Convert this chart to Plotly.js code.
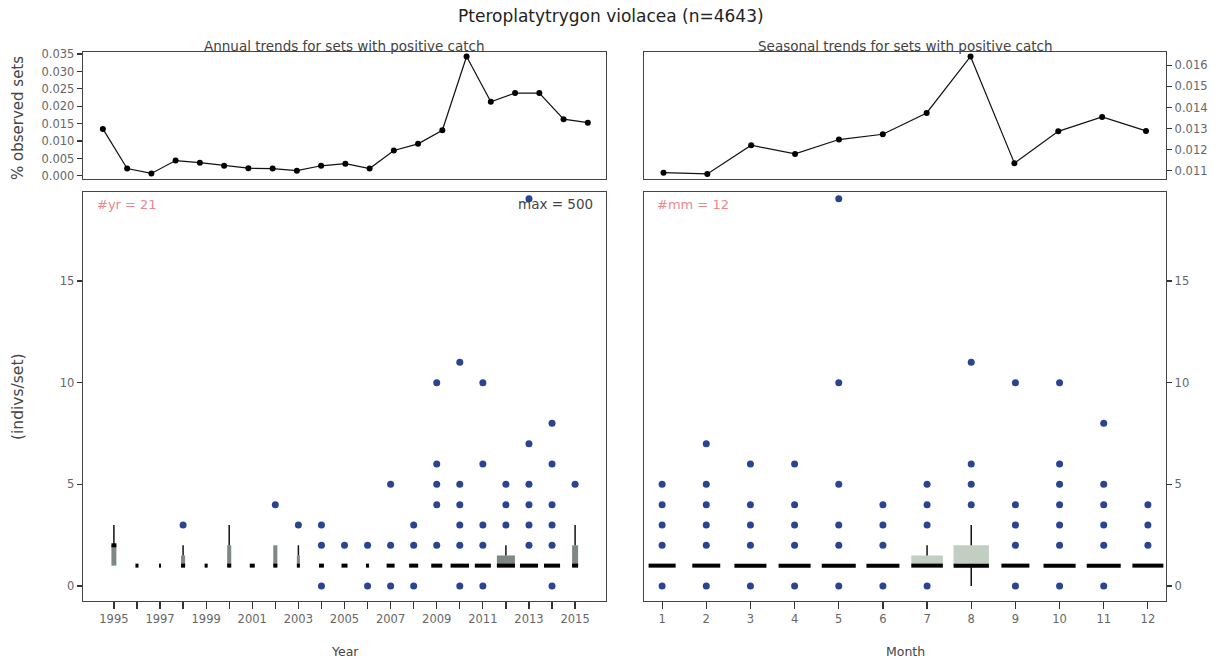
<!DOCTYPE html>
<html>
<head>
<meta charset="utf-8">
<script src="https://cdn.plot.ly/plotly-3.0.1.min.js"></script>
<style>html,body{margin:0;padding:0;background:#fff;}#chart{width:1222px;height:662px;}</style>
</head>
<body>
<div id="chart"></div>
<script>
// ---------------- data ----------------
const years = [1995,1996,1997,1998,1999,2000,2001,2002,2003,2004,2005,2006,2007,2008,2009,2010,2011,2012,2013,2014,2015];
const yearLabels = ["1995","","1997","","1999","","2001","","2003","","2005","","2007","","2009","","2011","","2013","","2015"];
const pctAnnual = [0.0135,0.0021,0.0007,0.0044,0.0038,0.0029,0.0022,0.0021,0.0015,0.0029,0.0035,0.0021,0.0073,0.0092,0.0131,0.0343,0.0213,0.0238,0.0238,0.0163,0.0153];

const months = [1,2,3,4,5,6,7,8,9,10,11,12];
const pctSeasonal = [0.01091,0.01085,0.01221,0.01180,0.01248,0.01273,0.01374,0.01642,0.01136,0.01287,0.01355,0.01289];

// per-year box statistics (indivs/set)
const yrN   = [24,9,4,16,9,16,24,16,9,24,35,9,62,79,118,330,250,316,316,250,35];
const yrLo  = [1,1,1,1,1,1,1,1,1,1,1,1,1,1,1,1,1,1,1,1,1];
const yrQ1  = [1,1,1,1,1,1,1,1,1,1,1,1,1,1,1,1,1,1,1,1,1];
const yrMed = [2,1,1,1,1,1,1,1,1,1,1,1,1,1,1,1,1,1,1,1,1];
const yrQ3  = [2,1,1,1.5,1,2,1,2,1.5,1,1,1,1,1,1,1,1,1.5,1,1,2];
const yrHi  = [3,1,1,2,1,3,1,2,2,1,1,1,1,1,1,1,1,2,1,1,3];
const yrOut = [[],[],[],[3],[],[],[],[4],[3],[0,2,3],[2],[0,2],[0,2,5],[0,2,3],[2,4,5,6,10],[0,2,3,4,5,11],[0,2,3,6,10],[3,4,5],[2,3,4,5,7,500],[0,2,3,4,6,8],[5]];

// per-month box statistics (indivs/set)
const mmN   = [119,127,167,167,188,177,162,203,127,167,188,156];
const mmLo  = [1,1,1,1,1,1,1,0,1,1,1,1];
const mmQ1  = [1,1,1,1,1,1,1,1,1,1,1,1];
const mmMed = [1,1,1,1,1,1,1,1,1,1,1,1];
const mmQ3  = [1,1,1,1,1,1,1.5,2,1,1,1,1];
const mmHi  = [1,1,1,1,1,1,2,3,1,1,1,1];
const mmOut = [[0,2,3,4,5],[0,2,3,4,5,7],[0,2,3,4,6],[0,2,3,4,6],[0,2,3,5,10,500],[0,2,3,4],[0,3,4,5],[4,5,6,11],[0,2,3,4,10],[0,2,3,4,5,6,10],[0,2,3,4,5,8],[2,3,4]];

const nTotal = 4643;
const maxCatch = 500;

// ---------------- helpers ----------------
const W = 1222, H = 662;
const px = v => v / W;
const py = v => 1 - v / H;
const BOXW = 0.8;          // R varwidth: max box width
const YCAP = 19.05;        // values beyond the axis are drawn at the top edge

function widths(ns){ const m = Math.max(...ns); return ns.map(n => BOXW*Math.sqrt(n/m)); }
function vsegs(xs, a, b){
  const X=[],Y=[];
  xs.forEach((x,i)=>{ if(a[i]!==b[i]){ X.push(x,x,null); Y.push(a[i],b[i],null);} });
  return {X,Y};
}
function hsegs(xs, ys, ws){
  const X=[],Y=[];
  xs.forEach((x,i)=>{ X.push(x-ws[i]/2, x+ws[i]/2, null); Y.push(ys[i],ys[i],null); });
  return {X,Y};
}
function outs(xs, o){
  const X=[],Y=[];
  xs.forEach((x,i)=>o[i].forEach(v=>{ X.push(x); Y.push(Math.min(v,YCAP)); }));
  return {X,Y};
}
function boxTraces(xs, N, lo, q1, med, q3, hi, out, fill, xa, ya){
  const w = widths(N);
  const lowW = vsegs(xs, lo, q1), upW = vsegs(xs, q3, hi);
  const m = hsegs(xs, med, w);
  const o = outs(xs, out);
  return [
    {type:'bar', x:xs, base:q1, y:q3.map((v,i)=>v-q1[i]), width:w, marker:{color:fill, line:{width:0}}, xaxis:xa, yaxis:ya, hoverinfo:'skip'},
    {type:'scatter', mode:'lines', x:lowW.X.concat(upW.X), y:lowW.Y.concat(upW.Y), line:{color:'#111', width:1.5}, xaxis:xa, yaxis:ya, hoverinfo:'skip'},
    {type:'scatter', mode:'lines', x:m.X, y:m.Y, line:{color:'#000', width:4}, xaxis:xa, yaxis:ya, hoverinfo:'skip'},
    {type:'scatter', mode:'markers', x:o.X, y:o.Y, marker:{color:'#2a4494', size:7}, xaxis:xa, yaxis:ya, hoverinfo:'skip'}
  ];
}

const traces = [
  {type:'scatter', mode:'lines+markers', x:years, y:pctAnnual, line:{color:'#111', width:1.2},
   marker:{color:'#000', size:6}, xaxis:'x', yaxis:'y', hoverinfo:'skip'},
  {type:'scatter', mode:'lines+markers', x:months, y:pctSeasonal, line:{color:'#111', width:1.2},
   marker:{color:'#000', size:6}, xaxis:'x2', yaxis:'y2', hoverinfo:'skip'},
  ...boxTraces(years, yrN, yrLo, yrQ1, yrMed, yrQ3, yrHi, yrOut, '#7e8985', 'x3', 'y3'),
  ...boxTraces(months, mmN, mmLo, mmQ1, mmMed, mmQ3, mmHi, mmOut, '#c3cec3', 'x4', 'y4')
];

const FONT = 'DejaVu Sans, sans-serif';
const tickFont = {family:FONT, size:11.5, color:'#666'};
const frame = {showline:true, mirror:true, linecolor:'#444', linewidth:1.3, showgrid:false, zeroline:false, tickfont:tickFont, tickcolor:'#333', tickwidth:1.2};

const dxL = [px(83), px(606)], dxR = [px(644), px(1166)];
const dyT = [py(179), py(52)], dyB = [py(601), py(192)];

function note(text, x, y, opts){
  return Object.assign({text:text, xref:'paper', yref:'paper', x:px(x), y:py(y), xanchor:'center', yanchor:'middle', showarrow:false}, opts);
}

const layout = {
  width:W, height:H, margin:{l:0,r:0,t:0,b:0}, paper_bgcolor:'#fff', plot_bgcolor:'#fff',
  showlegend:false, hovermode:false, barmode:'overlay',
  xaxis: Object.assign({}, frame, {domain:dxL, range:[1994.18,2015.75], ticks:'', showticklabels:false, anchor:'y'}),
  yaxis: Object.assign({}, frame, {domain:dyT, range:[-0.0009,0.0356], tickvals:[0,0.005,0.01,0.015,0.02,0.025,0.03,0.035], tickformat:'.3f', ticks:'outside', ticklen:5, anchor:'x'}),
  xaxis2: Object.assign({}, frame, {domain:dxR, range:[0.556,12.456], ticks:'', showticklabels:false, anchor:'y2'}),
  yaxis2: Object.assign({}, frame, {domain:dyT, range:[0.01061,0.01663], tickvals:[0.011,0.012,0.013,0.014,0.015,0.016], tickformat:'.3f', ticks:'outside', ticklen:5, side:'right', anchor:'x2'}),
  xaxis3: Object.assign({}, frame, {domain:dxL, range:[1993.66,2016.34], tickvals:years, ticktext:yearLabels, ticks:'outside', ticklen:7, anchor:'y3'}),
  yaxis3: Object.assign({}, frame, {domain:dyB, range:[-0.74,19.38], tickvals:[0,5,10,15], ticks:'outside', ticklen:5, anchor:'x3'}),
  xaxis4: Object.assign({}, frame, {domain:dxR, range:[0.59,12.41], tickvals:months, ticks:'outside', ticklen:7, anchor:'y4'}),
  yaxis4: Object.assign({}, frame, {domain:dyB, range:[-0.74,19.38], tickvals:[0,5,10,15], ticks:'outside', ticklen:5, side:'right', anchor:'x4'}),
  annotations: [
    note('Pteroplatytrygon violacea (n=' + nTotal + ')', 611, 16, {font:{family:FONT, size:17, color:'#222'}}),
    note('Annual trends for sets with positive catch', 344, 46, {font:{family:FONT, size:13.5, color:'#444'}}),
    note('Seasonal trends for sets with positive catch', 905, 46, {font:{family:FONT, size:13.5, color:'#444'}}),
    note('% observed sets', 18, 118, {textangle:-90, font:{family:FONT, size:15, color:'#444'}}),
    note('(indivs/set)', 18, 397, {textangle:-90, font:{family:FONT, size:15.5, color:'#444'}}),
    note('Year', 345, 651, {font:{family:FONT, size:12.5, color:'#444'}}),
    note('Month', 905, 651, {font:{family:FONT, size:12.5, color:'#444'}}),
    note('#yr = ' + years.length, 95, 204, {xanchor:'left', font:{family:FONT, size:13, color:'#e8898c'}}),
    note('max = ' + maxCatch, 595, 204, {xanchor:'right', font:{family:FONT, size:13.5, color:'#444'}}),
    note('#mm = ' + months.length, 655, 204, {xanchor:'left', font:{family:FONT, size:13, color:'#e8898c'}})
  ]
};

Plotly.newPlot('chart', traces, layout, {staticPlot:true, displayModeBar:false});
</script>
</body>
</html>
